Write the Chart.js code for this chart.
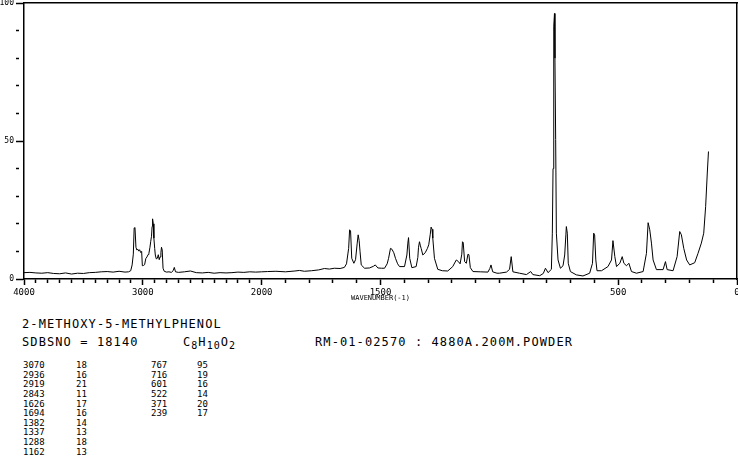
<!DOCTYPE html>
<html>
<head>
<meta charset="utf-8">
<script src="https://cdn.jsdelivr.net/npm/chart.js@4.4.1/dist/chart.umd.min.js"></script>
<style>
  body { margin: 0; background: #fff; }
  #page { position: relative; width: 738px; height: 457px; overflow: hidden; font-family: "DejaVu Sans Mono", monospace; color: #000; }
  #chartBox { position: absolute; left: 0; top: 0; width: 738px; height: 305px; }
  .big { position: absolute; font-size: 12px; line-height: 12px; letter-spacing: 1.1px; white-space: pre; }
  .big sub { font-size: 10px; letter-spacing: 1px; vertical-align: -3px; line-height: 0; }
  .col { position: absolute; font-size: 9px; line-height: 9.63px; white-space: pre; }
</style>
</head>
<body>
<div id="page">
  <div id="chartBox"><canvas id="myChart"></canvas></div>
  <div class="big" style="left:22px;top:318px">2-METHOXY-5-METHYLPHENOL</div>
  <div class="big" style="left:22px;top:336px">SDBSNO = 18140</div>
  <div class="big" style="left:183px;top:336px">C<sub>8</sub>H<sub>10</sub>O<sub>2</sub></div>
  <div class="big" style="left:315px;top:336px">RM-01-02570 : 4880A.200M.POWDER</div>
  <div class="col" id="col1" style="left:23px;top:361px"></div>
  <div class="col" id="col2" style="left:76px;top:361px"></div>
  <div class="col" id="col3" style="left:151px;top:361px"></div>
  <div class="col" id="col4" style="left:197px;top:361px"></div>
</div>
<script>
// spectrum (cm-1, relative intensity)
const waveNumbers = [
  4000,3950,3900,3850,3800,3750,3700,3650,3600,3550,
  3500,3450,3400,3350,3300,3250,3200,3150,3120,3102,
  3090,3080,3073,3066,3058,3050,3042,3035,3027,3018,
  3010,3004,2995,2985,2975,2965,2955,2949,2940,2934,
  2927,2922,2918,2912,2907,2900,2895,2887,2878,2870,
  2862,2855,2848,2843,2837,2830,2820,2800,2780,2760,
  2745,2735,2725,2700,2650,2600,2550,2500,2450,2400,
  2350,2300,2250,2200,2150,2100,2050,2000,1976,1940,
  1900,1860,1841,1820,1790,1760,1736,1715,1694,1670,
  1652,1643,1634,1630,1626,1621,1612,1605,1598,1594,
  1590,1586,1581,1567,1546,1530,1522,1511,1495,1483,
  1472,1466,1458,1452,1444,1437,1428,1420,1399,1389,
  1385,1382,1377,1368,1350,1343,1340,1336,1332,1329,
  1322,1312,1303,1297,1291,1287,1283,1280,1273,1259,
  1240,1217,1196,1188,1181,1172,1165,1158,1155,1152,
  1146,1139,1132,1128,1122,1111,1080,1048,1040,1035,
  1028,1010,1000,970,957,950,943,915,886,868,
  859,830,815,806,795,781,777,774,771,768,
  766,763,760,753,743,732,725,720,718,714,
  710,701,676,648,620,608,603,599,594,589,
  570,543,528,522,514,507,493,483,476,465,
  455,444,423,395,381,374,367,360,353,339,
  311,301,294,269,252,241,234,224,212,199,
  178,164,150,140,132,125,120
];
const intensities = [
  2.3,2.4,2.2,2.1,2.3,2.0,1.9,2.2,1.8,2.1,
  2.0,2.3,2.4,2.6,2.7,2.5,2.8,2.5,2.6,3.0,
  5.1,9.0,18.5,18.6,11.5,10.5,10.8,10.1,10.6,9.6,
  10.0,4.8,4.9,5.2,7.4,8.0,8.9,9.3,11.5,13.5,
  15.5,19.0,21.8,20.0,14.8,11.0,8.7,7.3,7.5,8.8,
  7.0,8.0,9.5,11.5,10.5,3.9,2.8,2.5,2.6,2.4,
  3.0,4.2,2.6,2.4,2.6,2.9,2.3,2.2,2.4,2.1,
  2.3,2.2,2.3,2.5,2.4,2.6,2.5,2.6,2.7,2.8,
  2.6,2.9,3.1,2.8,3.0,3.3,3.8,3.6,3.9,3.8,
  4.2,5.5,11.1,17.8,17.5,7.5,5.7,7.0,13.0,16.0,
  14.0,9.9,5.1,3.9,4.0,4.6,5.1,4.0,3.9,3.9,
  5.5,7.5,11.1,10.8,9.5,7.5,5.5,4.5,4.5,8.7,
  13.0,15.0,7.5,4.1,4.5,7.8,11.5,13.5,12.0,11.1,
  8.7,9.5,11.0,12.4,16.0,18.8,18.0,14.8,7.5,3.5,
  3.0,2.9,4.5,5.8,6.9,6.3,5.5,9.0,13.5,13.2,
  6.3,5.7,9.0,8.8,4.1,2.7,2.6,2.5,3.8,5.1,
  2.6,2.1,2.1,2.5,3.5,8.1,2.6,2.1,1.6,2.7,
  1.6,1.2,2.0,3.9,2.3,3.5,16.6,40.0,91.6,96.2,
  80.0,50.5,16.6,6.9,3.9,4.8,8.7,16.0,19.0,16.6,
  5.7,2.7,1.5,1.1,2.1,5.7,16.6,16.0,6.9,3.0,
  3.0,4.5,6.9,13.9,8.1,4.5,5.7,8.1,5.7,4.8,
  5.7,2.7,2.1,2.7,9.3,20.4,17.8,13.0,6.9,3.4,
  3.4,6.3,3.4,3.0,8.1,17.2,16.0,11.1,6.9,5.1,
  5.9,9.3,13.0,16.6,26.2,38.4,46.2
];

// axis labels (tick marks every 100 cm-1 and every 10 %)
const xMajor = [4000, 3000, 2000, 1500, 500, 0];
const xTickLabels = ['4000', '3000', '2000', '1500', '500', '0'];
const yMajor = [0, 50, 100];
const yTickLabels = ['0', '50', '100'];

// peak table
const tableWave1 = ['3070','2936','2919','2843','1626','1694','1382','1337','1288','1162'];
const tableInt1  = ['18','16','21','11','17','16','14','13','18','13'];
const tableWave2 = ['767','716','601','522','371','239'];
const tableInt2  = ['95','19','16','14','20','17'];

document.getElementById('col1').textContent = tableWave1.join('\n');
document.getElementById('col2').textContent = tableInt1.join('\n');
document.getElementById('col3').textContent = tableWave2.join('\n');
document.getElementById('col4').textContent = tableInt2.join('\n');

const xTickValues = [];
for (let v = 4000; v >= 0; v -= 100) xTickValues.push(v);
const yTickValues = [];
for (let v = 0; v <= 100; v += 10) yTickValues.push(v);

// 4000-2000 uses a third of the width, 2000-0 the other two thirds
function waveToDecimal(w) {
  if (w >= 2000) return (4000 - w) / 6000;
  return (3000 - w) / 3000;
}
function decimalToWave(d) {
  const u = d * 3000;
  if (u <= 1000) return 4000 - 2 * u;
  return 3000 - u;
}

class WaveScale extends Chart.LinearScale {
  getPixelForValue(value) {
    if (value === null || value === undefined || isNaN(value)) return NaN;
    return this.getPixelForDecimal(waveToDecimal(value));
  }
  getValueForPixel(pixel) {
    return decimalToWave(this.getDecimalForPixel(pixel));
  }
}
WaveScale.id = 'wave';
WaveScale.defaults = Chart.LinearScale.defaults;
Chart.register(WaveScale);

const labelFont = { family: 'DejaVu Sans Mono', size: 9 };
const frameBorder = { display: true, color: '#000000', width: 1.5 };

const ctx = document.getElementById('myChart').getContext('2d');
const myChart = new Chart(ctx, {
  type: 'line',
  data: {
    datasets: [{
      label: 'Raman',
      data: waveNumbers.map((w, i) => ({ x: w, y: intensities[i] })),
      borderColor: '#000',
      borderWidth: 1,
      pointRadius: 0,
      tension: 0,
      fill: false
    }]
  },
  options: {
    responsive: true,
    maintainAspectRatio: false,
    animation: false,
    layout: { padding: { top: 3, right: 1, left: 0, bottom: 0 } },
    plugins: {
      legend: { display: false },
      tooltip: { enabled: false }
    },
    scales: {
      x: {
        type: 'wave',
        min: 0,
        max: 4000,
        border: frameBorder,
        grid: {
          display: true,
          color: '#000000',
          drawOnChartArea: false,
          drawTicks: true,
          tickLength: 6,
          tickColor: '#000000',
          tickWidth: 1.5,
          // short ticks for the unlabelled hundreds
          tickBorderDash: (c) => xMajor.includes(c.tick.value) ? [] : [3.5, 20]
        },
        afterBuildTicks: (s) => { s.ticks = xTickValues.map(v => ({ value: v })); },
        afterFit: (s) => { s.height = 26; s.paddingLeft = 0; s.paddingRight = 0; },
        ticks: {
          autoSkip: false,
          maxRotation: 0,
          padding: 2,
          color: '#000',
          font: labelFont,
          callback: (v) => {
            const k = xMajor.indexOf(v);
            return k >= 0 ? xTickLabels[k] : '';
          }
        },
        title: {
          display: true,
          text: 'WAVENUMBER(-1)',
          color: '#000',
          font: { family: 'DejaVu Sans Mono', size: 7 },
          padding: { top: 0, bottom: 3 }
        }
      },
      xTop: {
        type: 'linear',
        position: 'top',
        display: true,
        min: 0,
        max: 4000,
        border: frameBorder,
        grid: { display: false },
        ticks: { display: false },
        afterFit: (s) => { s.height = 0; s.paddingLeft = 0; s.paddingRight = 0; }
      },
      y: {
        min: 0,
        max: 100,
        border: frameBorder,
        grid: {
          display: true,
          color: '#000000',
          drawOnChartArea: false,
          drawTicks: true,
          tickLength: 8,
          tickColor: '#000000',
          tickWidth: 1.5,
          tickBorderDash: (c) => yMajor.includes(c.tick.value) ? [] : [3, 20]
        },
        afterBuildTicks: (s) => { s.ticks = yTickValues.map(v => ({ value: v })); },
        afterFit: (s) => { s.width = 24; s.paddingTop = 0; s.paddingBottom = 0; },
        ticks: {
          autoSkip: false,
          padding: 2,
          color: '#000',
          font: { family: 'DejaVu Sans Mono', size: 8 },
          callback: (v) => {
            const k = yMajor.indexOf(v);
            return k >= 0 ? yTickLabels[k] : '';
          }
        }
      },
      yRight: {
        type: 'linear',
        position: 'right',
        display: true,
        min: 0,
        max: 100,
        border: frameBorder,
        grid: { display: false },
        ticks: { display: false },
        afterFit: (s) => { s.width = 0; s.paddingTop = 0; s.paddingBottom = 0; }
      }
    }
  }
});
</script>
</body>
</html>
